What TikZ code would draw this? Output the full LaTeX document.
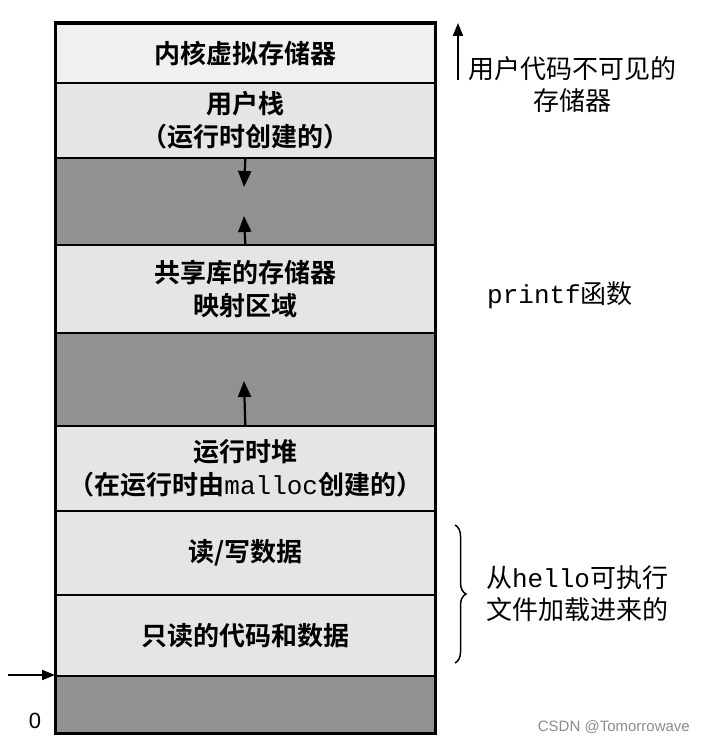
\documentclass[tikz,border=0pt]{standalone}
\usepackage{fontspec}
\setmainfont{Liberation Sans}
\setmonofont{Liberation Mono}
\newfontfamily\cjk[BoldFont={* Bold}]{Noto Sans CJK SC}
\usetikzlibrary{arrows.meta,decorations.pathreplacing}
\definecolor{lightfill}{gray}{0.90}
\definecolor{darkfill}{gray}{0.57}
\definecolor{kernfill}{gray}{0.94}
\begin{document}
\begin{tikzpicture}[x=1pt,y=-1pt,
  region/.style={draw=black,line width=1.6pt,anchor=north west,minimum width=379pt,inner sep=0pt,
     font=\cjk\bfseries\fontsize{26}{33}\selectfont,align=center},
  side/.style={font=\cjk\fontsize{26}{32}\selectfont,align=center,inner sep=0pt},
  arr/.style={line width=2.2pt,-{Triangle[length=16pt,width=13pt]}},
  sarr/.style={line width=2pt,-{Triangle[length=13pt,width=10pt]}}]
\useasboundingbox (0,0) rectangle (704,746);
\fill[white] (0,0) rectangle (704,746);
\node[region,fill=kernfill,minimum height=59pt] (kern) at (55,23) {内核虚拟存储器};
\node[region,fill=lightfill,minimum height=75pt] (stack) at (55,82) {用户栈\\（运行时创建的）};
\node[region,fill=darkfill,minimum height=87pt] (gap1) at (55,157) {};
\node[region,fill=lightfill,minimum height=88pt] (shared) at (55,244) {共享库的存储器\\映射区域};
\node[region,fill=darkfill,minimum height=93pt] (gap2) at (55,332) {};
\node[region,fill=lightfill,minimum height=85pt] (heap) at (55,425) {运行时堆\\（在运行时由{\ttfamily\mdseries malloc}创建的）};
\node[region,fill=lightfill,minimum height=84pt] (rw) at (55,510) {读/写数据};
\node[region,fill=lightfill,minimum height=81pt] (ro) at (55,594) {只读的代码和数据};
\node[region,fill=darkfill,minimum height=57pt] (bot) at (55,675) {};
\draw[line width=3pt] (kern.north west) rectangle (bot.south east);
% growth arrows
\coordinate (d1) at (244,187);
\coordinate (u1) at (244,216);
\coordinate (u2) at (244,381);
\draw[arr] (stack.south) -- (d1);
\draw[arr] (shared.north) -- (u1);
\draw[arr] (heap.north) -- (u2);
% right side annotations
\coordinate (ta) at (458,80);
\coordinate (tb) at (458,23);
\draw[sarr] (ta) -- (tb);
\node[side] (inv) at (572,85) {用户代码不可见的\\存储器};
\node[side,anchor=west] (pf) at (487,295) {{\ttfamily printf}函数};
\coordinate (b1) at (455,525);
\coordinate (b2) at (455,663);
\draw[line width=1.5pt,decorate,decoration={brace,amplitude=11pt}] (b1) -- (b2);
\node[side] (load) at (577,594) {从{\ttfamily hello}可执行\\文件加载进来的};
% address zero
\coordinate (z0) at (8,675);
\draw[sarr] (z0) -- (bot.north west);
\node[font=\fontsize{22}{22}\selectfont,inner sep=0pt] (zero) at (35,721) {0};
\node[font=\fontsize{15}{15}\selectfont,text=black!45,inner sep=0pt,anchor=east] (wm) at (690,727) {CSDN @Tomorrowave};
\end{tikzpicture}
\end{document}
